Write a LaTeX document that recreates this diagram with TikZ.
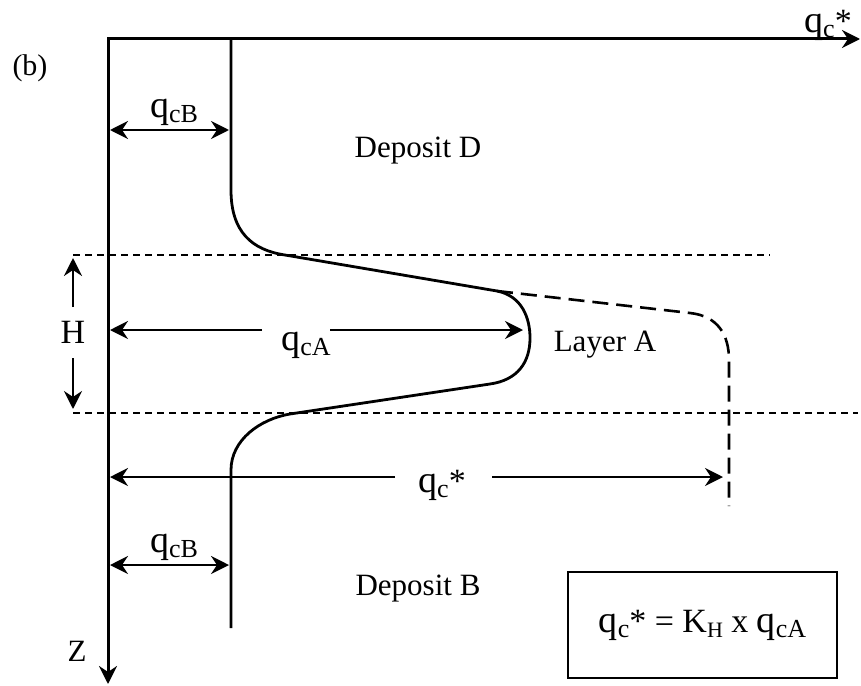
\documentclass[tikz,border=0pt]{standalone}
\usepackage{fontspec}
\setmainfont{Liberation Serif}
\usetikzlibrary{arrows.meta}

\newcommand{\qsub}[1]{{\fontsize{38}{40}\selectfont q\raisebox{-5pt}{\fontsize{26}{28}\selectfont #1}}}
\newcommand{\qstar}{{\fontsize{38}{40}\selectfont q\raisebox{-5pt}{\fontsize{26}{28}\selectfont c}{\fontsize{34}{36}\selectfont *}}}

\begin{document}
\begin{tikzpicture}[
  x=1pt, y=-1pt,
  >={Stealth[length=18pt,width=18pt,inset=6pt]},
  axisline/.style={line width=3pt, <->},
  profile/.style={line width=2.8pt},
  dim/.style={line width=2.6pt, ->},
  dimboth/.style={line width=2.6pt, <->},
  bound/.style={line width=2.8pt, dash pattern=on 7pt off 5pt},
  ext/.style={line width=2.6pt, dash pattern=on 16pt off 8pt},
  lbl/.style={font=\fontsize{31}{34}\selectfont, inner sep=0pt, anchor=base}
]
\useasboundingbox (0,0) rectangle (861,685);

% ---- axes ----
\coordinate (O) at (108,39);
\coordinate (xEnd) at (860,39);
\coordinate (zEnd) at (108,684);
\draw[axisline] (xEnd) -- (O) -- (zEnd);

\node[lbl, font=\fontsize{30}{34}\selectfont] (b) at (30,75) {(b)};
\node[lbl] (qTop) at (828,33) {\qstar};
\node[lbl] (z) at (77,661) {Z};

% ---- layer boundaries ----
\coordinate (upL) at (73,255);
\coordinate (upR) at (770,255);
\coordinate (loL) at (73,413);
\coordinate (loR) at (858,413);
\draw[bound] (upL) -- (upR);
\draw[bound] (loL) -- (loR);

% ---- cone resistance profile ----
\coordinate (pTop) at (231,39);
\coordinate (pBot) at (231,628);
\draw[profile] (pTop) -- (231,190)
  .. controls (231,232) and (252,250) .. (285,255) -- (497,291)
  .. controls (522,296) and (530,318) .. (530,338)
  .. controls (530,362) and (518,380) .. (490,384) -- (290,414)
  .. controls (260,419) and (231,440) .. (231,470) -- (pBot);
\draw[ext] (497,291) -- (690,313)
  .. controls (718,316) and (729,335) .. (729,360) -- (729,506);

% ---- dimensions ----
\coordinate (bL1) at (110,130);
\coordinate (bR1) at (229,130);
\draw[dimboth] (bL1) -- (bR1);
\node[lbl] (qB1) at (174,117) {\qsub{cB}};

\coordinate (bL2) at (110,565);
\coordinate (bR2) at (229,565);
\draw[dimboth] (bL2) -- (bR2);
\node[lbl] (qB2) at (174,552) {\qsub{cB}};

\node[lbl, font=\fontsize{34}{38}\selectfont] (H) at (73,343) {H};
\coordinate (hUpTail) at (73,307);
\coordinate (hUpTip) at (73,258);
\coordinate (hDnTail) at (73,358);
\coordinate (hDnTip) at (73,409);
\draw[dim] (hUpTail) -- (hUpTip);
\draw[dim] (hDnTail) -- (hDnTip);

\node[lbl] (qA) at (306,350) {\qsub{cA}};
\coordinate (aTailL) at (262,330);
\coordinate (aTipL) at (110,330);
\coordinate (aTailR) at (330,330);
\coordinate (aTipR) at (523,330);
\draw[dim] (aTailL) -- (aTipL);
\draw[dim] (aTailR) -- (aTipR);

\node[lbl] (qS) at (442,492) {\qstar};
\coordinate (sTailL) at (395,477);
\coordinate (sTipL) at (110,477);
\coordinate (sTailR) at (492,477);
\coordinate (sTipR) at (723,477);
\draw[dim] (sTailL) -- (sTipL);
\draw[dim] (sTailR) -- (sTipR);

% ---- text ----
\node[lbl] (depD) at (418,157) {Deposit D};
\node[lbl] (layA) at (605,351) {Layer A};
\node[lbl] (depB) at (418,595) {Deposit B};

\node[draw, line width=2.4pt, minimum width=269pt, minimum height=106pt, inner sep=0pt,
  font=\fontsize{34}{38}\selectfont]
  (formula) at (702.5,625) {\qstar{} = K\raisebox{-5pt}{\fontsize{22}{24}\selectfont H} x \qsub{cA}};

\end{tikzpicture}
\end{document}
